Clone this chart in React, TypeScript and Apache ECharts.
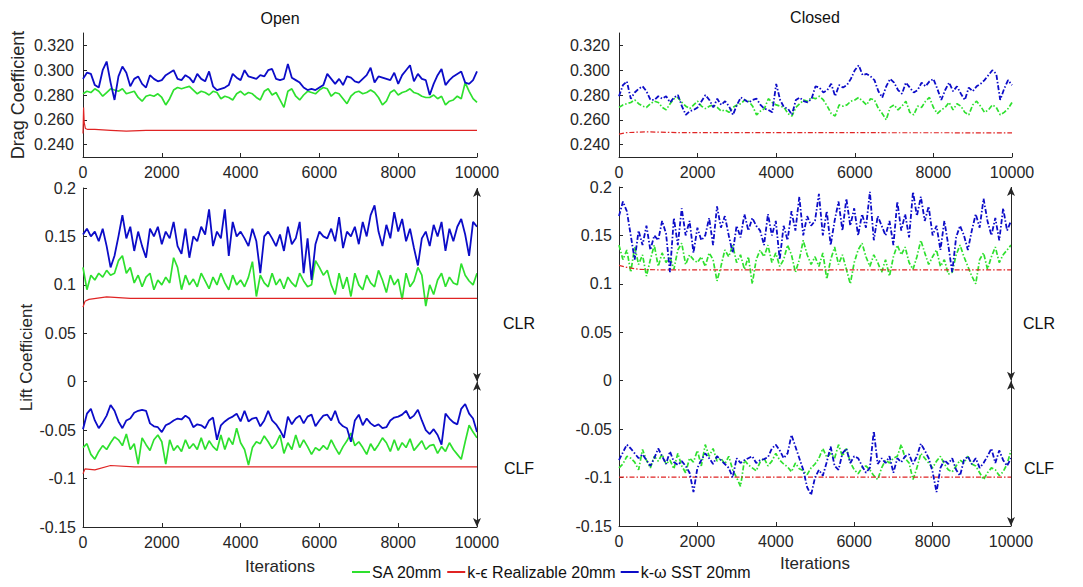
import React, { useEffect, useRef } from "react";
import * as echarts from "echarts";

// ---- data ----
const ITER = Array.from({ length: 101 }, (_, i) => i * 100);

const SERIES_NAMES = ["SA 20mm", "k-ϵ Realizable 20mm", "k-ω SST 20mm"];

// Drag coefficient, Open
const openDragSA = [0.281,0.283,0.282,0.285,0.283,0.279,0.282,0.285,0.284,0.283,
0.285,0.281,0.282,0.283,0.278,0.275,0.279,0.280,0.279,0.281,
0.278,0.272,0.277,0.284,0.286,0.285,0.286,0.287,0.284,0.281,
0.283,0.282,0.280,0.283,0.282,0.277,0.279,0.278,0.276,0.281,
0.283,0.280,0.282,0.281,0.278,0.276,0.283,0.285,0.280,0.282,
0.276,0.270,0.283,0.285,0.279,0.276,0.280,0.283,0.282,0.281,
0.284,0.286,0.285,0.279,0.282,0.281,0.277,0.273,0.279,0.282,
0.283,0.281,0.282,0.284,0.282,0.278,0.272,0.275,0.282,0.284,
0.280,0.282,0.283,0.285,0.282,0.281,0.279,0.278,0.278,0.280,
0.277,0.279,0.272,0.275,0.276,0.279,0.277,0.290,0.283,0.277,
0.274];
const openDragSST = [0.293,0.298,0.297,0.288,0.286,0.300,0.307,0.290,0.276,0.295,
0.303,0.298,0.287,0.293,0.295,0.289,0.286,0.296,0.293,0.291,
0.292,0.296,0.298,0.300,0.293,0.292,0.296,0.294,0.290,0.297,
0.293,0.291,0.299,0.287,0.284,0.285,0.286,0.288,0.297,0.294,
0.292,0.300,0.295,0.294,0.293,0.296,0.295,0.300,0.301,0.293,
0.292,0.293,0.305,0.294,0.292,0.290,0.286,0.284,0.285,0.284,
0.286,0.288,0.297,0.293,0.289,0.293,0.288,0.295,0.294,0.291,
0.290,0.293,0.296,0.302,0.290,0.295,0.294,0.293,0.292,0.298,
0.289,0.296,0.300,0.304,0.291,0.297,0.293,0.292,0.280,0.289,
0.296,0.301,0.288,0.292,0.295,0.297,0.299,0.290,0.289,0.292,
0.299];
const openDragKeIter = [0, 15, 30, 60, 120, 300, 700, 1100, 1600, 10000];
const openDragKe = [0.249, 0.270, 0.258, 0.253, 0.2522, 0.2522, 0.2515, 0.2508, 0.2515, 0.2515];

// Drag coefficient, Closed
const closedDragSA = [0.270,0.272,0.273,0.274,0.276,0.273,0.271,0.270,0.273,0.275,
0.274,0.270,0.268,0.273,0.277,0.278,0.274,0.271,0.269,0.272,
0.275,0.271,0.269,0.271,0.272,0.270,0.267,0.268,0.266,0.270,
0.272,0.273,0.276,0.275,0.271,0.264,0.267,0.269,0.277,0.274,
0.272,0.271,0.270,0.265,0.263,0.270,0.273,0.276,0.275,0.278,
0.277,0.279,0.276,0.271,0.265,0.263,0.272,0.271,0.272,0.275,
0.276,0.278,0.275,0.272,0.277,0.276,0.269,0.265,0.260,0.270,
0.272,0.268,0.271,0.275,0.266,0.264,0.271,0.270,0.275,0.278,
0.270,0.265,0.268,0.270,0.274,0.268,0.273,0.271,0.266,0.264,
0.272,0.275,0.271,0.266,0.268,0.272,0.270,0.264,0.266,0.269,
0.274];
const closedDragSST = [0.279,0.288,0.291,0.277,0.282,0.285,0.287,0.283,0.276,0.276,
0.279,0.277,0.279,0.274,0.278,0.280,0.271,0.264,0.267,0.268,
0.270,0.275,0.280,0.276,0.270,0.277,0.272,0.275,0.271,0.264,
0.272,0.278,0.276,0.274,0.276,0.277,0.272,0.269,0.268,0.266,
0.289,0.276,0.270,0.269,0.264,0.276,0.278,0.275,0.274,0.277,
0.287,0.286,0.282,0.284,0.289,0.279,0.288,0.286,0.288,0.293,
0.300,0.304,0.296,0.297,0.295,0.292,0.283,0.278,0.287,0.293,
0.290,0.284,0.281,0.290,0.286,0.282,0.284,0.290,0.287,0.291,
0.293,0.285,0.276,0.284,0.290,0.283,0.287,0.281,0.276,0.286,
0.283,0.287,0.289,0.292,0.296,0.300,0.297,0.276,0.285,0.292,
0.288];
const closedDragKeIter = [0, 200, 700, 1500, 10000];
const closedDragKe = [0.2485, 0.2497, 0.2503, 0.2497, 0.2495];

// Lift coefficient, Open (CLR above 0, CLF below 0)
const openClrSA = [0.118,0.095,0.110,0.105,0.112,0.108,0.115,0.110,0.112,0.125,
0.130,0.112,0.118,0.102,0.110,0.098,0.108,0.112,0.095,0.105,
0.100,0.108,0.102,0.128,0.118,0.095,0.110,0.100,0.106,0.098,
0.112,0.104,0.096,0.108,0.100,0.112,0.102,0.095,0.110,0.100,
0.105,0.098,0.108,0.124,0.088,0.110,0.102,0.098,0.112,0.100,
0.106,0.096,0.108,0.102,0.098,0.112,0.104,0.098,0.100,0.125,
0.118,0.110,0.115,0.100,0.090,0.112,0.096,0.108,0.088,0.112,
0.100,0.095,0.110,0.102,0.098,0.115,0.105,0.092,0.110,0.100,
0.106,0.085,0.112,0.098,0.104,0.118,0.110,0.078,0.100,0.090,
0.105,0.112,0.098,0.108,0.102,0.100,0.122,0.110,0.104,0.100,
0.112];
const openClrSST = [0.152,0.158,0.150,0.155,0.145,0.158,0.140,0.118,0.130,0.150,
0.172,0.148,0.160,0.135,0.155,0.140,0.128,0.158,0.150,0.160,
0.142,0.155,0.148,0.165,0.140,0.132,0.158,0.128,0.150,0.145,
0.160,0.152,0.178,0.140,0.155,0.148,0.178,0.130,0.165,0.150,
0.155,0.148,0.140,0.158,0.145,0.112,0.150,0.155,0.148,0.140,
0.152,0.135,0.160,0.142,0.148,0.165,0.112,0.148,0.105,0.142,
0.155,0.150,0.148,0.158,0.145,0.170,0.138,0.155,0.150,0.160,
0.142,0.165,0.150,0.172,0.182,0.155,0.140,0.162,0.148,0.175,
0.155,0.168,0.145,0.158,0.138,0.120,0.148,0.155,0.140,0.162,
0.150,0.165,0.135,0.158,0.145,0.160,0.168,0.152,0.130,0.165,
0.160];
const openClrKeIter = [0, 50, 150, 600, 1200, 10000];
const openClrKe = [0.077, 0.083, 0.085, 0.0875, 0.086, 0.086];

const openClfSA = [-0.068,-0.064,-0.075,-0.080,-0.072,-0.066,-0.070,-0.063,-0.057,-0.060,
-0.066,-0.054,-0.070,-0.064,-0.085,-0.058,-0.065,-0.071,-0.060,-0.055,
-0.062,-0.085,-0.060,-0.071,-0.066,-0.072,-0.060,-0.069,-0.064,-0.070,
-0.058,-0.070,-0.061,-0.067,-0.071,-0.055,-0.070,-0.058,-0.065,-0.048,
-0.063,-0.070,-0.086,-0.068,-0.062,-0.064,-0.056,-0.062,-0.069,-0.064,
-0.055,-0.074,-0.063,-0.070,-0.055,-0.068,-0.060,-0.067,-0.075,-0.068,
-0.071,-0.066,-0.070,-0.060,-0.068,-0.075,-0.067,-0.061,-0.053,-0.066,
-0.062,-0.068,-0.075,-0.064,-0.071,-0.065,-0.058,-0.063,-0.072,-0.060,
-0.071,-0.063,-0.068,-0.059,-0.071,-0.066,-0.061,-0.070,-0.066,-0.065,
-0.074,-0.067,-0.072,-0.063,-0.070,-0.075,-0.080,-0.062,-0.045,-0.052,
-0.058];
const openClfSST = [-0.049,-0.033,-0.028,-0.040,-0.048,-0.042,-0.035,-0.024,-0.030,-0.041,
-0.048,-0.040,-0.038,-0.032,-0.030,-0.029,-0.030,-0.043,-0.046,-0.047,
-0.052,-0.045,-0.043,-0.040,-0.038,-0.039,-0.035,-0.038,-0.047,-0.044,
-0.045,-0.048,-0.040,-0.037,-0.060,-0.045,-0.041,-0.038,-0.036,-0.033,
-0.041,-0.030,-0.041,-0.038,-0.037,-0.046,-0.040,-0.030,-0.040,-0.044,
-0.050,-0.058,-0.036,-0.044,-0.038,-0.035,-0.043,-0.036,-0.034,-0.046,
-0.040,-0.035,-0.034,-0.040,-0.030,-0.042,-0.046,-0.048,-0.062,-0.040,
-0.034,-0.045,-0.038,-0.043,-0.046,-0.044,-0.048,-0.047,-0.040,-0.037,
-0.036,-0.034,-0.030,-0.038,-0.035,-0.029,-0.040,-0.050,-0.054,-0.049,
-0.055,-0.065,-0.033,-0.038,-0.042,-0.044,-0.028,-0.023,-0.033,-0.038,
-0.052];
const openClfKeIter = [0, 50, 300, 700, 1300, 10000];
const openClfKe = [-0.095, -0.090, -0.091, -0.0865, -0.088, -0.088];

// Lift coefficient, Closed
const closedClrSA = [0.140,0.125,0.135,0.112,0.138,0.120,0.130,0.108,0.125,0.140,
0.118,0.132,0.122,0.128,0.115,0.135,0.142,0.120,0.130,0.125,
0.122,0.128,0.118,0.132,0.125,0.103,0.118,0.135,0.128,0.140,
0.122,0.130,0.115,0.128,0.100,0.125,0.135,0.128,0.140,0.122,
0.132,0.118,0.125,0.140,0.130,0.112,0.125,0.145,0.130,0.120,
0.128,0.118,0.132,0.105,0.125,0.138,0.120,0.130,0.115,0.100,
0.122,0.135,0.142,0.128,0.118,0.130,0.122,0.112,0.125,0.108,
0.128,0.140,0.130,0.138,0.122,0.115,0.128,0.145,0.132,0.120,
0.128,0.135,0.118,0.125,0.110,0.112,0.130,0.140,0.128,0.118,
0.108,0.100,0.125,0.132,0.115,0.128,0.138,0.122,0.130,0.135,
0.140];
const closedClrSST = [0.170,0.185,0.175,0.150,0.125,0.155,0.140,0.160,0.135,0.150,
0.145,0.165,0.152,0.112,0.168,0.140,0.178,0.150,0.165,0.132,
0.158,0.145,0.150,0.168,0.140,0.180,0.158,0.170,0.150,0.132,
0.160,0.148,0.172,0.155,0.168,0.160,0.155,0.140,0.172,0.150,
0.165,0.125,0.160,0.145,0.175,0.155,0.190,0.150,0.170,0.160,
0.165,0.193,0.150,0.175,0.140,0.165,0.185,0.155,0.188,0.160,
0.178,0.150,0.172,0.158,0.195,0.145,0.170,0.160,0.150,0.165,
0.140,0.185,0.155,0.172,0.148,0.195,0.170,0.190,0.165,0.180,
0.150,0.160,0.135,0.165,0.140,0.112,0.148,0.160,0.150,0.135,
0.155,0.172,0.158,0.188,0.165,0.150,0.168,0.145,0.178,0.155,
0.165];
const closedClrKeIter = [0, 200, 500, 1000, 10000];
const closedClrKe = [0.119, 0.117, 0.115, 0.1145, 0.1145];

const closedClfSA = [-0.090,-0.086,-0.078,-0.080,-0.084,-0.092,-0.071,-0.082,-0.090,-0.078,
-0.083,-0.076,-0.086,-0.082,-0.091,-0.075,-0.088,-0.095,-0.080,-0.084,
-0.072,-0.088,-0.066,-0.078,-0.070,-0.083,-0.080,-0.086,-0.078,-0.092,
-0.100,-0.109,-0.082,-0.087,-0.090,-0.093,-0.084,-0.080,-0.088,-0.083,
-0.075,-0.082,-0.086,-0.089,-0.094,-0.085,-0.091,-0.093,-0.097,-0.090,
-0.086,-0.080,-0.070,-0.079,-0.075,-0.080,-0.066,-0.078,-0.070,-0.084,
-0.092,-0.096,-0.090,-0.088,-0.092,-0.098,-0.102,-0.090,-0.082,-0.085,
-0.080,-0.078,-0.066,-0.080,-0.085,-0.102,-0.090,-0.075,-0.080,-0.085,
-0.090,-0.083,-0.078,-0.086,-0.092,-0.094,-0.088,-0.082,-0.085,-0.078,
-0.086,-0.088,-0.095,-0.102,-0.095,-0.090,-0.092,-0.098,-0.094,-0.086,
-0.072];
const closedClfSST = [-0.082,-0.074,-0.066,-0.070,-0.075,-0.080,-0.076,-0.082,-0.088,-0.080,
-0.070,-0.078,-0.086,-0.073,-0.084,-0.087,-0.083,-0.088,-0.095,-0.115,
-0.090,-0.082,-0.075,-0.080,-0.086,-0.078,-0.082,-0.086,-0.090,-0.100,
-0.080,-0.085,-0.082,-0.080,-0.078,-0.085,-0.082,-0.081,-0.079,-0.070,
-0.066,-0.072,-0.080,-0.075,-0.056,-0.068,-0.080,-0.092,-0.110,-0.118,
-0.100,-0.092,-0.098,-0.084,-0.068,-0.088,-0.092,-0.075,-0.070,-0.085,
-0.078,-0.080,-0.088,-0.095,-0.090,-0.052,-0.086,-0.080,-0.085,-0.078,
-0.095,-0.080,-0.084,-0.078,-0.076,-0.086,-0.078,-0.065,-0.072,-0.080,
-0.094,-0.115,-0.090,-0.082,-0.086,-0.080,-0.092,-0.098,-0.082,-0.078,
-0.086,-0.080,-0.090,-0.085,-0.078,-0.070,-0.085,-0.072,-0.082,-0.088,
-0.080];
const closedClfKeIter = [0, 10000];
const closedClfKe = [-0.0995, -0.0995];

const dragTicks = [0.24, 0.26, 0.28, 0.3, 0.32];

// ---- styling ----
const FONT = "'Liberation Sans', Arial, Helvetica, sans-serif";
const AX = "#262626";
const GREEN = "#2ee02e";
const RED = "#e02424";
const BLUE = "#0c0cc8";
const DASHDOT: number[] = [5, 2, 1.5, 2];

const pairs = (xs: number[], ys: number[]) => xs.map((x, i) => [x, ys[i]]);

function xAxis(gi: number, showName: boolean, nameGap: number) {
  return {
    type: "value",
    gridIndex: gi,
    min: 0,
    max: 10000,
    interval: 2000,
    axisLine: { show: true, onZero: false, lineStyle: { color: AX, width: 1 } },
    axisTick: { show: true, inside: true, length: 4, lineStyle: { color: AX } },
    axisLabel: { color: AX, fontSize: 16, fontFamily: FONT, margin: 7, formatter: (v: number) => String(v) },
    splitLine: { show: false },
    name: showName ? "Iterations" : "",
    nameLocation: "middle",
    nameGap,
    nameTextStyle: { color: AX, fontSize: 17, fontFamily: FONT },
  };
}

function dragYAxis(gi: number, name: string) {
  return {
    type: "value",
    gridIndex: gi,
    min: 0.23,
    max: 0.33,
    axisLine: { show: true, onZero: false, lineStyle: { color: AX, width: 1 } },
    axisTick: { show: true, inside: true, length: 4, customValues: dragTicks, lineStyle: { color: AX } },
    axisLabel: {
      color: AX,
      fontSize: 16,
      fontFamily: FONT,
      margin: 9,
      customValues: dragTicks,
      formatter: (v: number) => v.toFixed(3),
    },
    splitLine: { show: false },
    name,
    nameLocation: "middle",
    nameGap: 56,
    nameTextStyle: { color: AX, fontSize: 18, fontFamily: FONT },
  };
}

function liftYAxis(gi: number, name: string) {
  return {
    type: "value",
    gridIndex: gi,
    min: -0.15,
    max: 0.2,
    interval: 0.05,
    axisLine: { show: true, onZero: false, lineStyle: { color: AX, width: 1 } },
    axisTick: { show: true, inside: true, length: 4, lineStyle: { color: AX } },
    axisLabel: {
      color: AX,
      fontSize: 16,
      fontFamily: FONT,
      margin: 7,
      formatter: (v: number) => String(Math.round(v * 100) / 100),
    },
    splitLine: { show: false },
    name,
    nameLocation: "middle",
    nameGap: 48,
    nameTextStyle: { color: AX, fontSize: 17, fontFamily: FONT },
  };
}

function line(name: string, gi: number, data: number[][], color: string, width: number, type: any, extra: any = {}) {
  return {
    type: "line",
    name,
    xAxisIndex: gi,
    yAxisIndex: gi,
    data,
    symbol: "none",
    showSymbol: false,
    silent: true,
    itemStyle: { color },
    lineStyle: { color, width, type },
    z: 2,
    ...extra,
  };
}

const arrowMark = {
  silent: true,
  symbol: ["arrow", "arrow"],
  symbolSize: [6, 9],
  label: { show: false },
  lineStyle: { color: AX, width: 1, type: "solid" },
  data: [
    [{ coord: [10000, 0.2] }, { coord: [10000, 0] }],
    [{ coord: [10000, 0] }, { coord: [10000, -0.15] }],
  ],
};

export default function App() {
  const ref = useRef<HTMLDivElement>(null);
  useEffect(() => {
    if (!ref.current) return;
    const chart = echarts.init(ref.current, undefined, { renderer: "svg" });
    const txt = (text: string, x: number, y: number, size = 16) => ({
      type: "text",
      x,
      y,
      style: { text, fill: "#111", fontSize: size, fontFamily: FONT, align: "center", verticalAlign: "middle" },
    });
    const option: any = {
      animation: false,
      backgroundColor: "#fff",
      grid: [
        { left: 83, top: 33, width: 394, height: 124 },
        { left: 619, top: 33, width: 393, height: 124 },
        { left: 83, top: 188, width: 394, height: 339 },
        { left: 619, top: 187, width: 392, height: 339 },
      ],
      xAxis: [xAxis(0, false, 0), xAxis(1, false, 0), xAxis(2, true, 31), xAxis(3, true, 29)],
      yAxis: [dragYAxis(0, "Drag Coefficient"), dragYAxis(1, ""), liftYAxis(2, "Lift Coefficient"), liftYAxis(3, "")],
      legend: {
        left: 352,
        top: 564,
        padding: 0,
        itemGap: 5,
        itemWidth: 18,
        itemHeight: 2,
        icon: "rect",
        selectedMode: false,
        textStyle: { color: "#111", fontSize: 16, fontFamily: FONT, padding: [0, 0, 0, -3] },
        data: SERIES_NAMES,
      },
      graphic: [
        txt("Open", 280, 18),
        txt("Closed", 815, 17),
        txt("CLR", 519, 323),
        txt("CLF", 519, 468),
        txt("CLR", 1039, 323),
        txt("CLF", 1039, 468),
      ],
      series: [
        // Open drag
        line(SERIES_NAMES[0], 0, pairs(ITER, openDragSA), GREEN, 1.7, "solid"),
        line(SERIES_NAMES[1], 0, pairs(openDragKeIter, openDragKe), RED, 1.2, "solid"),
        line(SERIES_NAMES[2], 0, pairs(ITER, openDragSST), BLUE, 1.8, "solid"),
        // Closed drag
        line(SERIES_NAMES[0], 1, pairs(ITER, closedDragSA), GREEN, 1.7, DASHDOT),
        line(SERIES_NAMES[1], 1, pairs(closedDragKeIter, closedDragKe), RED, 1.2, DASHDOT),
        line(SERIES_NAMES[2], 1, pairs(ITER, closedDragSST), BLUE, 1.8, DASHDOT),
        // Open lift
        line(SERIES_NAMES[0], 2, pairs(ITER, openClrSA), GREEN, 1.7, "solid"),
        line(SERIES_NAMES[0], 2, pairs(ITER, openClfSA), GREEN, 1.7, "solid"),
        line(SERIES_NAMES[1], 2, pairs(openClrKeIter, openClrKe), RED, 1.2, "solid", { markLine: arrowMark }),
        line(SERIES_NAMES[1], 2, pairs(openClfKeIter, openClfKe), RED, 1.2, "solid"),
        line(SERIES_NAMES[2], 2, pairs(ITER, openClrSST), BLUE, 1.8, "solid"),
        line(SERIES_NAMES[2], 2, pairs(ITER, openClfSST), BLUE, 1.8, "solid"),
        // Closed lift
        line(SERIES_NAMES[0], 3, pairs(ITER, closedClrSA), GREEN, 1.7, DASHDOT),
        line(SERIES_NAMES[0], 3, pairs(ITER, closedClfSA), GREEN, 1.7, DASHDOT),
        line(SERIES_NAMES[1], 3, pairs(closedClrKeIter, closedClrKe), RED, 1.2, DASHDOT, { markLine: arrowMark }),
        line(SERIES_NAMES[1], 3, pairs(closedClfKeIter, closedClfKe), RED, 1.2, DASHDOT),
        line(SERIES_NAMES[2], 3, pairs(ITER, closedClrSST), BLUE, 1.8, DASHDOT),
        line(SERIES_NAMES[2], 3, pairs(ITER, closedClfSST), BLUE, 1.8, DASHDOT),
      ],
    };
    chart.setOption(option);
    return () => chart.dispose();
  }, []);
  return (
    <div
      ref={ref}
      style={{ position: "fixed", left: 0, top: 0, width: 1083, height: 587, background: "#fff" }}
    />
  );
}
